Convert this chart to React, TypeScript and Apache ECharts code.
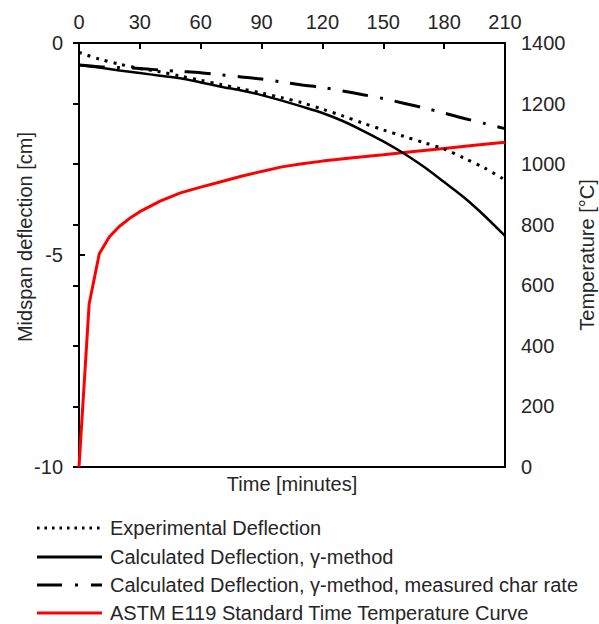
import React, { useEffect, useRef } from "react";
import * as echarts from "echarts";

const timeTicks = [0, 30, 60, 90, 120, 150, 180, 210];
const defTime = [0, 10, 20, 30, 40, 50, 60, 70, 80, 90, 100, 110, 120, 130, 140, 150, 160, 170, 180, 190, 200, 210];
const experimental = [-0.22, -0.38, -0.5, -0.6, -0.68, -0.78, -0.88, -0.98, -1.08, -1.18, -1.29, -1.41, -1.56, -1.72, -1.89, -2.05, -2.2, -2.35, -2.5, -2.72, -2.95, -3.23];
const calculated = [-0.52, -0.58, -0.65, -0.71, -0.77, -0.83, -0.93, -1.03, -1.12, -1.23, -1.36, -1.5, -1.65, -1.84, -2.07, -2.32, -2.6, -2.92, -3.28, -3.65, -4.08, -4.55];
const calculatedChar = [-0.52, -0.56, -0.58, -0.6, -0.64, -0.67, -0.7, -0.75, -0.8, -0.85, -0.92, -0.99, -1.05, -1.13, -1.22, -1.31, -1.42, -1.53, -1.65, -1.78, -1.9, -2.02];
const astmTime = [0, 5, 10, 15, 20, 25, 30, 40, 50, 60, 70, 80, 90, 100, 110, 120, 135, 150, 165, 180, 195, 210];
const astmTemp = [0, 538, 704, 760, 795, 821, 843, 878, 905, 924, 942, 960, 976, 991, 1001, 1010, 1021, 1031, 1042, 1052, 1062, 1072];

const legendNames = [
  "Experimental Deflection",
  "Calculated Deflection, γ-method",
  "Calculated Deflection, γ-method, measured char rate",
  "ASTM E119 Standard Time Temperature Curve",
];
const leftAxisName = "Midspan deflection [cm]";
const rightAxisName = "Temperature [°C]";
const bottomAxisName = "Time [minutes]";

const FONT = "'Liberation Sans', Arial, sans-serif";
const TXT = "#262626";
const FS = 20;

export default function App() {
  const ref = useRef<HTMLDivElement>(null);
  useEffect(() => {
    if (!ref.current) return;
    const chart = echarts.init(ref.current, undefined, { renderer: "svg" });
    const zip = (xs: number[], ys: number[]) => xs.map((x, i) => [x, ys[i]]);
    const legendStyles = [
      { stroke: "#000", lineWidth: 3, lineDash: [2.5, 5] },
      { stroke: "#000", lineWidth: 3 },
      { stroke: "#000", lineWidth: 3, lineDash: [25, 13, 3, 13] },
      { stroke: "#ff0000", lineWidth: 3 },
    ];
    const rowsY = [528, 557, 585, 613];
    const graphic: any[] = [];
    legendNames.forEach((n, i) => {
      graphic.push({
        type: "line",
        shape: { x1: 37, y1: rowsY[i], x2: 102, y2: rowsY[i] },
        style: { ...legendStyles[i], fill: null },
      });
      graphic.push({
        type: "text",
        x: 110,
        y: rowsY[i],
        style: { text: n, font: `${FS}px ${FONT}`, fill: TXT, verticalAlign: "middle" },
      });
    });
    graphic.push({
      type: "text",
      x: 25,
      y: 237,
      rotation: Math.PI / 2,
      style: { text: leftAxisName, font: `${FS}px ${FONT}`, fill: TXT, align: "center", verticalAlign: "middle" },
    });
    const lbl = { fontSize: FS, color: TXT, fontFamily: FONT };
    chart.setOption({
      animation: false,
      backgroundColor: "#fff",
      textStyle: { fontFamily: FONT },
      grid: {
        left: 79,
        right: 94,
        top: 43,
        bottom: 157,
        outerBoundsMode: "none",
        containLabel: false,
        show: true,
        borderColor: "#000",
        borderWidth: 2,
        backgroundColor: "transparent",
      },
      xAxis: [
        {
          type: "value",
          position: "top",
          min: 0,
          max: 210,
          interval: 30,
          axisLine: { show: true, lineStyle: { color: "#000", width: 2 } },
          axisTick: { show: true, inside: true, length: 6, lineStyle: { color: "#000", width: 2 } },
          axisLabel: { ...lbl, margin: 11, formatter: (v: number) => (timeTicks.includes(v) ? String(v) : "") },
          splitLine: { show: false },
        },
        {
          type: "value",
          position: "bottom",
          min: 0,
          max: 210,
          interval: 30,
          name: bottomAxisName,
          nameLocation: "middle",
          nameGap: 7,
          nameMoveOverlap: false,
          nameTextStyle: lbl,
          axisLine: { show: true, lineStyle: { color: "#000", width: 2 } },
          axisTick: { show: false },
          axisLabel: { show: false },
          splitLine: { show: false },
        },
      ],
      yAxis: [
        {
          type: "value",
          min: -10,
          max: 0,
          interval: 5,
          position: "left",
          axisLine: { show: true, lineStyle: { color: "#000", width: 2 } },
          axisTick: { show: true, inside: true, length: 6, lineStyle: { color: "#000", width: 2 } },
          axisLabel: { ...lbl, margin: 16, formatter: (v: number) => String(v) },
          splitLine: { show: false },
        },
        {
          type: "value",
          min: 0,
          max: 1400,
          interval: 200,
          position: "right",
          name: rightAxisName,
          nameLocation: "middle",
          nameGap: 72,
          nameRotate: 90,
          nameMoveOverlap: false,
          nameTextStyle: lbl,
          axisLine: { show: true, lineStyle: { color: "#000", width: 2 } },
          axisTick: { show: true, inside: true, length: 6, lineStyle: { color: "#000", width: 2 } },
          axisLabel: { ...lbl, margin: 16, formatter: (v: number) => String(v) },
          splitLine: { show: false },
        },
      ],
      series: [
        {
          name: legendNames[3],
          type: "line",
          xAxisIndex: 0,
          yAxisIndex: 1,
          data: zip(astmTime, astmTemp),
          showSymbol: false,
          symbol: "none",
          lineStyle: { color: "#ff0000", width: 3 },
          z: 2,
        },
        {
          name: legendNames[2],
          type: "line",
          xAxisIndex: 0,
          yAxisIndex: 0,
          data: zip(defTime, calculatedChar),
          showSymbol: false,
          symbol: "none",
          smooth: 0.3,
          lineStyle: { color: "#000", width: 3, type: [26, 12, 3, 12] },
          z: 3,
        },
        {
          name: legendNames[1],
          type: "line",
          xAxisIndex: 0,
          yAxisIndex: 0,
          data: zip(defTime, calculated),
          showSymbol: false,
          symbol: "none",
          smooth: 0.3,
          lineStyle: { color: "#000", width: 2.5 },
          z: 3,
        },
        {
          name: legendNames[0],
          type: "line",
          xAxisIndex: 0,
          yAxisIndex: 0,
          data: zip(defTime, experimental),
          showSymbol: false,
          symbol: "none",
          smooth: 0.3,
          lineStyle: { color: "#000", width: 3, type: [3, 6] },
          z: 3,
        },
      ],
      graphic,
    });
    return () => chart.dispose();
  }, []);
  return <div ref={ref} style={{ position: "fixed", left: 0, top: 0, width: 599, height: 624 }} />;
}
